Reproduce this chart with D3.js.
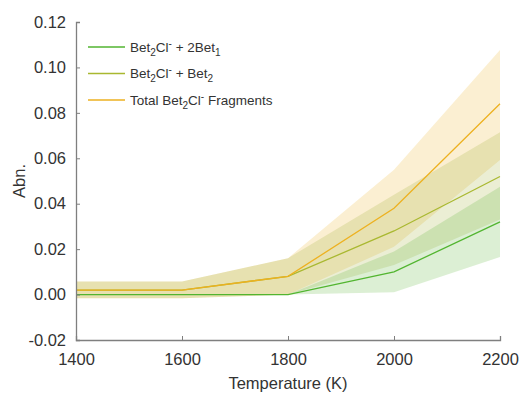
<!DOCTYPE html>
<html>
<head>
<meta charset="utf-8">
<script src="https://cdn.jsdelivr.net/npm/d3@7"></script>
<style>
  body { margin: 0; background: #fff; }
  text { font-family: "Liberation Sans", Arial, sans-serif; }
</style>
</head>
<body>
<div id="chart"></div>
<script>
// temperatures (K)
const temps = [1400, 1600, 1800, 2000, 2200]
const yTicks = [-0.02, 0, 0.02, 0.04, 0.06, 0.08, 0.10, 0.12]

// Bet2Cl- + 2Bet1
const greenMean = [0.000, 0.000, 0.000, 0.010, 0.032]
const greenLow  = [0.000, 0.000, 0.000, 0.001, 0.0165]
const greenHigh = [0.000, 0.000, 0.000, 0.019, 0.0475]
// Bet2Cl- + Bet2
const oliveMean = [0.002, 0.002, 0.008, 0.028, 0.052]
const oliveLow  = [-0.0016, -0.0016, 0.000, 0.013, 0.033]
const oliveHigh = [0.0057, 0.0057, 0.016, 0.044, 0.0715]
// Total Bet2Cl- fragments
const totalMean = [0.002, 0.002, 0.008, 0.038, 0.084]
const totalLow  = [-0.0016, -0.0016, 0.000, 0.021, 0.0593]
const totalHigh = [0.0057, 0.0057, 0.016, 0.055, 0.1077]

const W = 521, H = 393
const margin = {left: 76, right: 21, top: 22, bottom: 53}

const svg = d3.select('#chart').append('svg')
  .attr('width', W).attr('height', H)

const x = d3.scaleLinear().domain([1400, 2200]).range([margin.left, W - margin.right])
const y = d3.scaleLinear().domain([-0.02, 0.12]).range([H - margin.bottom, margin.top])

const series = [
  {mean: totalMean, low: totalLow, high: totalHigh, line: '#edb120', fill: '#edb120'},
  {mean: oliveMean, low: oliveLow, high: oliveHigh, line: '#a9b830', fill: '#9aa82a'},
  {mean: greenMean, low: greenLow, high: greenHigh, line: '#52b530', fill: '#50af28'},
]

const area = d3.area()
  .x(d => x(d.t)).y0(d => y(d.lo)).y1(d => y(d.hi))
const line = d3.line().x(d => x(d.t)).y(d => y(d.v))

// shaded bands
for (let s of series) {
  let pts = temps.map((t, i) => ({t: t, lo: s.low[i], hi: s.high[i]}))
  svg.append('path')
    .attr('d', area(pts))
    .attr('fill', s.fill)
    .attr('fill-opacity', 0.2)
}

// mean lines, total drawn last so it sits on top
for (let s of [series[1], series[2], series[0]]) {
  let pts = temps.map((t, i) => ({t: t, v: s.mean[i]}))
  svg.append('path')
    .attr('d', line(pts))
    .attr('fill', 'none')
    .attr('stroke', s.line)
    .attr('stroke-width', 1.3)
}

// axes, ticks pointing inward like matlab
const axisColor = '#7f7f7f'
const fmtY = d => d3.format('.2f')(d).replace('\u2212', '-')
const xAxis = svg.append('g')
  .attr('transform', `translate(0,${H - margin.bottom})`)
  .call(d3.axisBottom(x).tickValues(temps).tickSize(-4).tickPadding(10).tickFormat(d3.format('d')))
const yAxis = svg.append('g')
  .attr('transform', `translate(${margin.left},0)`)
  .call(d3.axisLeft(y).tickValues(yTicks).tickSize(-4).tickPadding(10).tickFormat(fmtY))

for (let ax of [xAxis, yAxis]) {
  ax.select('.domain').attr('stroke', axisColor).attr('stroke-width', 1.3)
  ax.selectAll('.tick line').attr('stroke', axisColor)
  ax.selectAll('.tick text')
    .attr('fill', '#333')
    .style('font-size', '16.5px')
    .style('font-family', '"Liberation Sans", Arial, sans-serif')
}
xAxis.selectAll('.tick text').attr('dy', '0.9em')

svg.append('text')
  .attr('x', (x.range()[0] + x.range()[1]) / 2)
  .attr('y', 389)
  .attr('text-anchor', 'middle')
  .attr('fill', '#333')
  .style('font-size', '16.5px')
  .text('Temperature (K)')

svg.append('text')
  .attr('transform', `translate(25,${y(0.05)}) rotate(-90)`)
  .attr('text-anchor', 'middle')
  .attr('fill', '#333')
  .style('font-size', '16.5px')
  .text('Abn.')

// legend
const legendItems = [
  {color: '#52b530', parts: [['Bet', 0], ['2', 1], ['Cl', 0], ['-', -1], [' + 2Bet', 0], ['1', 1]]},
  {color: '#a9b830', parts: [['Bet', 0], ['2', 1], ['Cl', 0], ['-', -1], [' + Bet', 0], ['2', 1]]},
  {color: '#edb120', parts: [['Total Bet', 0], ['2', 1], ['Cl', 0], ['-', -1], [' Fragments', 0]]},
]
const legend = svg.append('g')
legendItems.forEach((item, i) => {
  let ly = 47 + i * 26.5
  legend.append('line')
    .attr('x1', 88).attr('x2', 125)
    .attr('y1', ly).attr('y2', ly)
    .attr('stroke', item.color).attr('stroke-width', 1.5)
  let txt = legend.append('text')
    .attr('x', 130).attr('y', ly + 4.5)
    .attr('fill', '#333')
    .style('font-size', '13.5px')
  let prev = 0
  for (let [str, pos] of item.parts) {
    let shift = pos === 1 ? 4 : pos === -1 ? -5 : 0
    txt.append('tspan')
      .attr('dy', shift - prev)
      .style('font-size', pos === 0 ? '13.5px' : '10px')
      .text(str)
    prev = shift
  }
})
</script>
</body>
</html>
